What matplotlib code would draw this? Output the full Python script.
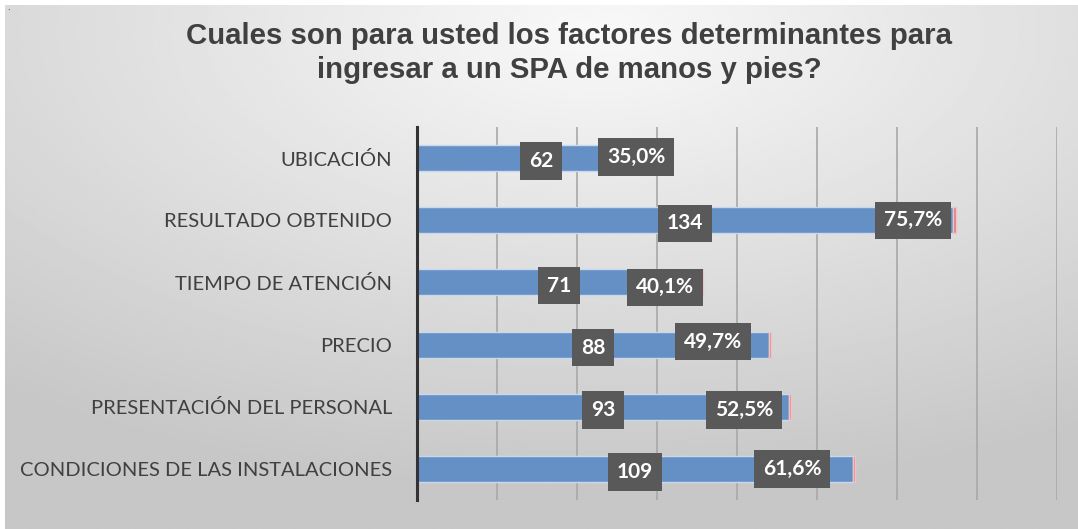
import matplotlib.pyplot as plt
import numpy as np

categories = ['CONDICIONES DE LAS INSTALACIONES', 'PRESENTACIÓN DEL PERSONAL', 'PRECIO',
              'TIEMPO DE ATENCIÓN', 'RESULTADO OBTENIDO', 'UBICACIÓN']
counts = [109, 93, 88, 71, 134, 62]
pcts = [0.616, 0.525, 0.497, 0.401, 0.757, 0.350]
pct_label_x = [93.8, 81.8, 74.0, 62.0, 124.0, 54.8]   # where the % labels were placed
pct_label_dy = [0.0, -0.05, 0.05, -0.08, 0.0, 0.02]

W, H = 1078, 529
fig = plt.figure(figsize=(W / 100, H / 100), dpi=100)
fig.patch.set_facecolor('white')

# gradient background
bg = fig.add_axes([5 / W, 0, 1 - 5 / W, 1 - 5 / H])
yy, xx = np.mgrid[0:1:200j, 0:1:400j]
r = np.sqrt(((xx - 0.55) / 0.9) ** 2 + ((yy - 0.05) / 0.9) ** 2)
shade = np.clip(0.975 - 0.2 * r, 0.78, 0.975)
bg.imshow(shade, cmap='gray', vmin=0, vmax=1, aspect='auto', extent=[0, 1, 1, 0])
bg.axis('off')
fig.text(7 / W, 1 - 7 / H, '.', fontsize=6, color='black', ha='left', va='center')

ax = fig.add_axes([417 / W, 29 / H, 640 / W, 373 / H])
ax.patch.set_alpha(0)
y = np.arange(len(categories))
ax.barh(y, counts, height=0.42, color='#6590c5', edgecolor='#c9d8ec', linewidth=1, zorder=3)
ax.barh(y, pcts, left=counts, height=0.42, color='#e07f7f', edgecolor='#f0c4c4', linewidth=1, zorder=3)

ax.set_xlim(0, 160)
ax.set_ylim(-0.5, len(categories) - 0.5)
ax.set_xticks(np.arange(20, 161, 20))
ax.xaxis.grid(True, color='#a8a8a8', linewidth=1.2, zorder=0)
ax.tick_params(axis='x', length=0, labelbottom=False)
ax.tick_params(axis='y', length=0, pad=18)
ax.set_yticks(y)
ax.set_yticklabels(categories, fontsize=14.5, color='#404040', family='Lato')
for s in ['top', 'right', 'bottom']:
    ax.spines[s].set_visible(False)
ax.spines['left'].set_color('#333333')
ax.spines['left'].set_linewidth(2.2)
ax.spines['left'].set_zorder(5)

box = dict(boxstyle='square,pad=0.42', facecolor='#595959', edgecolor='none')
for i in range(len(categories)):
    ax.text(counts[i] / 2, y[i] - 0.05, str(counts[i]), ha='center', va='center', fontsize=15,
            fontweight='bold', color='white', family='Lato', bbox=box, zorder=6)
    ax.text(pct_label_x[i], y[i] + pct_label_dy[i],
            ('%.1f%%' % (pcts[i] * 100)).replace('.', ','), ha='center', va='center', fontsize=15,
            fontweight='bold', color='white', family='Lato', bbox=box, zorder=6)

fig.text(0.528, 1 - 53 / H, 'Cuales son para usted los factores determinantes para\ningresar a un SPA de manos y pies?',
         ha='center', va='center', fontsize=21.2, fontweight='bold', color='#404040',
         family='Liberation Sans', linespacing=1.3)

fig.savefig('out.png', dpi=100)
